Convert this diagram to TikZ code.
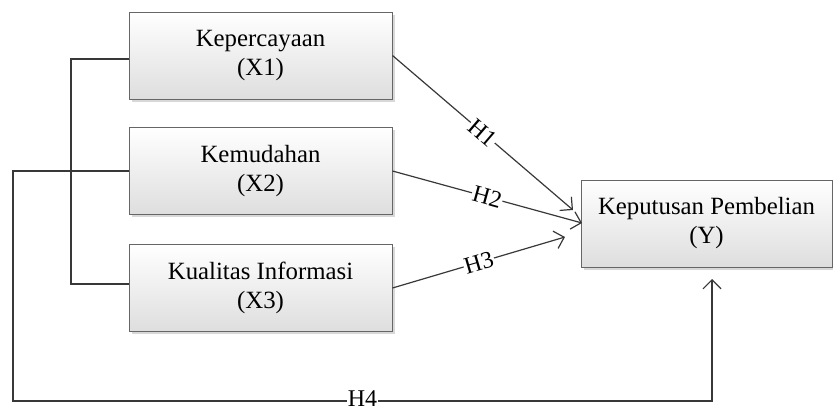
\documentclass[tikz,border=0pt]{standalone}
\usepackage{fontspec}
\setmainfont{Liberation Serif}
\usetikzlibrary{arrows.meta,shadows}
\begin{document}
\begin{tikzpicture}[x=1pt,y=-1pt,
 box/.style={draw=black!60, line width=1pt, top color=white, bottom color=black!13,
   drop shadow={shadow xshift=2.5pt, shadow yshift=-2.5pt, fill=black!30, opacity=0.5},
   minimum width=263pt, minimum height=87pt, align=center, inner sep=0pt,
   font=\fontsize{24.8}{29}\selectfont},
 conn/.style={draw=black!78, line width=1.2pt},
 arr/.style={conn, -{Straight Barb[length=9pt,width=18pt,line width=1.2pt]}},
 lab/.style={fill=white, inner sep=1pt, font=\fontsize{24}{28}\selectfont}]
\useasboundingbox (0,0) rectangle (833,407);
\node[box] (x1) at (260.5,55.5) {Kepercayaan\\(X1)};
\node[box] (x2) at (260.5,171) {Kemudahan\\(X2)};
\node[box] (x3) at (260.5,288) {Kualitas Informasi\\(X3)};
\node[box, minimum width=251pt] (y) at (706.5,223.5) {Keputusan Pembelian\\(Y)};
\coordinate (b1) at (71,59);
\coordinate (b2) at (71,284);
\coordinate (c1) at (13,401);
\coordinate (c2) at (712,401);
\coordinate (c3) at (712,279);
\coordinate (t1) at (573,210);
\coordinate (t2) at (582,223);
\coordinate (t3) at (565,237);
\draw[conn] ([yshift=-3.5pt]x1.west) -- (b1) -- (b2) -- ([yshift=4pt]x3.west);
\draw[arr] (x2.west) -| (c1) -- node[lab, inner sep=0.5pt, yshift=2.5pt]{H4} (c2) -- (c3);
\draw[arr] (x1.east) -- node[lab,sloped]{H1} (t1);
\draw[arr] (x2.east) -- node[lab,sloped]{H2} (t2);
\draw[arr] (x3.east) -- node[lab,sloped]{H3} (t3);
\end{tikzpicture}
\end{document}
